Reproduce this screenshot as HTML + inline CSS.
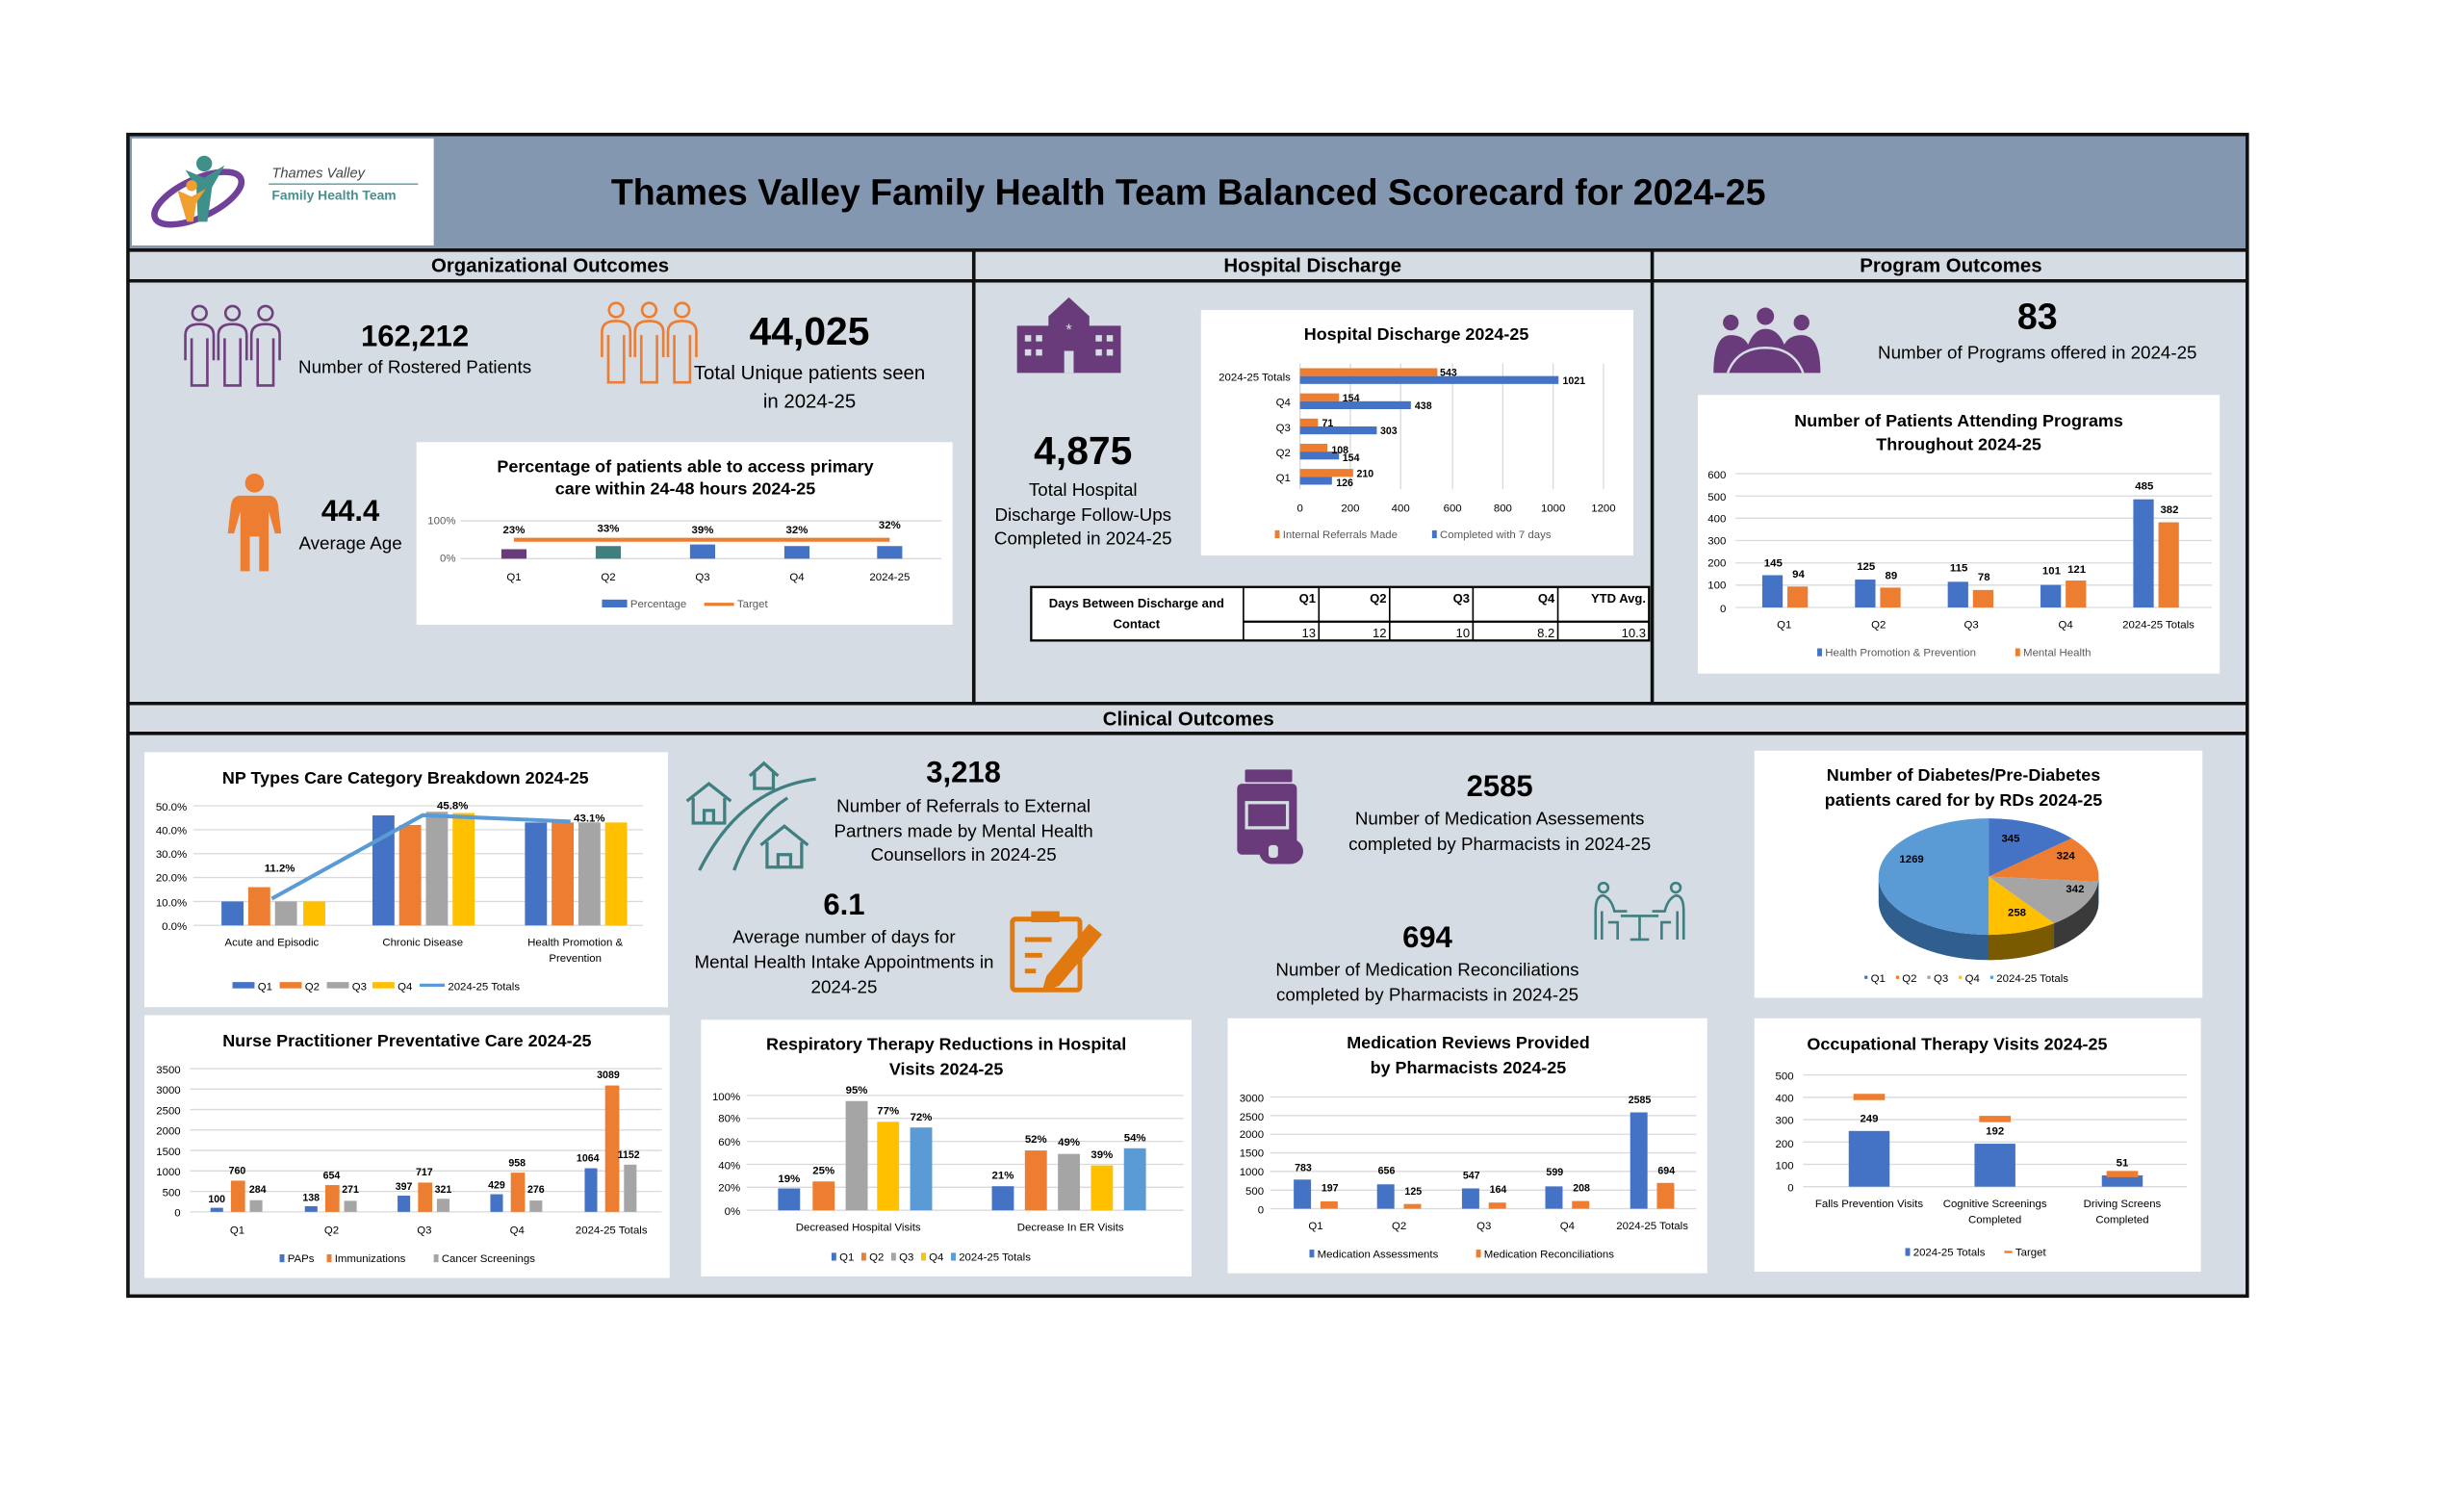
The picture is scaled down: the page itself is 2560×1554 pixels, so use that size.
<!DOCTYPE html>
<html><head><meta charset="utf-8"><style>
html,body{margin:0;padding:0;background:#fff;}
svg{display:block;}
text{font-family:"Liberation Sans Narrow","Liberation Sans",sans-serif;fill:#000;}
.t{font-size:11px;font-weight:bold;text-anchor:middle;}
.ax{font-size:7px;fill:#595959;}
.lb{font-size:7px;fill:#404040;text-anchor:middle;}
.g{stroke:#d9d9d9;stroke-width:0.8;}
.big{font-weight:bold;text-anchor:middle;}
.m{text-anchor:middle;font-size:11.5px;}
</style></head><body>
<svg width="2560" height="1554" viewBox="0 0 1550 940" preserveAspectRatio="none" xmlns="http://www.w3.org/2000/svg">
<rect width="1550" height="940" fill="#fff"/>
<g transform="translate(80,84) scale(0.989) translate(-80,-84)">
<!-- main panels -->
<rect x="81" y="85" width="1347" height="737" fill="#d6dce4"/>
<rect x="81" y="85" width="1347" height="72" fill="#8497b0"/>
<rect x="83" y="87" width="192" height="68" fill="#fff"/>
<text x="755" y="129" style="font-size:23px;font-weight:bold;text-anchor:middle">Thames Valley Family Health Team Balanced Scorecard for 2024-25</text>
<!-- logo -->
<ellipse cx="125" cy="125" rx="30" ry="12" fill="none" stroke="#70409a" stroke-width="4" transform="rotate(-25 125 125)"/>
<circle cx="129" cy="103" r="5" fill="#3f8f8a"/>
<path d="M117 107 L129 112 L142 104 L134 118 L131 140 L125 140 L124 118 Z" fill="#3f8f8a"/>
<circle cx="121" cy="117" r="3.5" fill="#f0a030"/>
<path d="M112 120 L121 124 L130 119 L124 128 L122 140 L118 140 Z" fill="#f0a030"/>
<text x="172" y="112" style="font-size:9px;font-style:italic;fill:#444">Thames Valley</text>
<line x1="170" y1="116" x2="265" y2="116" stroke="#5a9a9a" stroke-width="0.8"/>
<text x="172" y="126" style="font-size:8.5px;font-weight:bold;fill:#4a8f8f">Family Health Team</text>
<!-- grid lines -->
<g stroke="#111" stroke-width="2.2" fill="none">
<rect x="80.5" y="84.5" width="1348" height="738"/>
<line x1="80" y1="158" x2="1429" y2="158"/>
<line x1="80" y1="177.5" x2="1429" y2="177.5"/>
<line x1="80" y1="446" x2="1429" y2="446"/>
<line x1="80" y1="465" x2="1429" y2="465"/>
<line x1="618.5" y1="158" x2="618.5" y2="446"/>
<line x1="1050" y1="158" x2="1050" y2="446"/>
</g>
<text x="349" y="172" style="font-size:12.5px;font-weight:bold;text-anchor:middle">Organizational Outcomes</text>
<text x="834" y="172" style="font-size:12.5px;font-weight:bold;text-anchor:middle">Hospital Discharge</text>
<text x="1240" y="172" style="font-size:12.5px;font-weight:bold;text-anchor:middle">Program Outcomes</text>
<text x="755" y="460" style="font-size:12.5px;font-weight:bold;text-anchor:middle">Clinical Outcomes</text>

<!-- people icons -->
<g fill="none" stroke="#70407e" stroke-width="1.6">
<circle cx="126" cy="198" r="4.5"/><circle cx="147" cy="198" r="4.5"/><circle cx="168" cy="198" r="4.5"/>
<path d="M117 228 V212 Q117 205 126 205 Q135 205 135 212 V228 M121 214 V244 H131 V214"/>
<path d="M138 228 V212 Q138 205 147 205 Q156 205 156 212 V228 M142 214 V244 H152 V214"/>
<path d="M159 228 V212 Q159 205 168 205 Q177 205 177 212 V228 M163 214 V244 H173 V214"/>
</g>
<g fill="none" stroke="#ed7d31" stroke-width="1.6">
<circle cx="391" cy="196" r="4.5"/><circle cx="412" cy="196" r="4.5"/><circle cx="433" cy="196" r="4.5"/>
<path d="M382 226 V210 Q382 203 391 203 Q400 203 400 210 V226 M386 212 V242 H396 V212"/>
<path d="M403 226 V210 Q403 203 412 203 Q421 203 421 210 V226 M407 212 V242 H417 V212"/>
<path d="M424 226 V210 Q424 203 433 203 Q442 203 442 210 V226 M428 212 V242 H438 V212"/>
</g>
<circle cx="161" cy="306" r="6" fill="#ed7d31"/>
<path d="M152 314 H170 Q175 314 176 320 L178 338 H174 L170 324 V362 H164 V340 H158 V362 H152 V324 L148 338 H144 L146 320 Q147 314 152 314 Z" fill="#ed7d31"/>

<text x="263" y="219" class="big" style="font-size:19px">162,212</text>
<text x="263" y="236" class="m">Number of Rostered Patients</text>
<text x="514" y="218" class="big" style="font-size:25px">44,025</text>
<text x="514" y="240" class="m" style="font-size:12.5px">Total Unique patients seen</text>
<text x="514" y="258" class="m" style="font-size:12.5px">in 2024-25</text>
<text x="222" y="330" class="big" style="font-size:19px">44.4</text>
<text x="222" y="348" class="m">Average Age</text>

<!-- Access chart -->
<rect x="264" y="280" width="341" height="116" fill="#fff"/>
<text x="435" y="299" class="t">Percentage of patients able to access primary</text>
<text x="435" y="313" class="t">care within 24-48 hours 2024-25</text>
<line x1="292" y1="330" x2="598" y2="330" class="g"/><line x1="292" y1="354" x2="598" y2="354" class="g"/>
<text x="289" y="332" class="ax" text-anchor="end">100%</text><text x="289" y="356" class="ax" text-anchor="end">0%</text>
<rect x="318" y="348" width="16" height="6" fill="#6a3b7a"/>
<rect x="378" y="346" width="16" height="8" fill="#3f7f7f"/>
<rect x="438" y="345" width="16" height="9" fill="#4472c4"/>
<rect x="498" y="346" width="16" height="8" fill="#4472c4"/>
<rect x="557" y="346" width="16" height="8" fill="#4472c4"/>
<line x1="326" y1="342" x2="565" y2="342" stroke="#ed7d31" stroke-width="2.5"/>
<g class="lb" style="font-weight:bold"><text x="326" y="338">23%</text><text x="386" y="337">33%</text><text x="446" y="338">39%</text><text x="506" y="338">32%</text><text x="565" y="335">32%</text></g>
<g class="lb"><text x="326" y="368">Q1</text><text x="386" y="368">Q2</text><text x="446" y="368">Q3</text><text x="506" y="368">Q4</text><text x="565" y="368">2024-25</text></g>
<rect x="382" y="380" width="16" height="5" fill="#4472c4"/><text x="400" y="385" class="ax">Percentage</text>
<line x1="447" y1="383" x2="466" y2="383" stroke="#ed7d31" stroke-width="2"/><text x="468" y="385" class="ax">Target</text>

<!-- Hospital icon -->
<g fill="#6a3b7a">
<path d="M679 188 L692 200 V206 H712 V236 H646 V206 H666 V200 Z"/>
</g>
<g fill="#d6dce4"><rect x="651" y="212" width="4" height="4"/><rect x="658" y="212" width="4" height="4"/><rect x="651" y="221" width="4" height="4"/><rect x="658" y="221" width="4" height="4"/><rect x="696" y="212" width="4" height="4"/><rect x="703" y="212" width="4" height="4"/><rect x="696" y="221" width="4" height="4"/><rect x="703" y="221" width="4" height="4"/><rect x="676" y="222" width="6" height="14"/><text x="679" y="212" style="font-size:10px;fill:#d6dce4;text-anchor:middle">*</text></g>

<text x="688" y="294" class="big" style="font-size:25px">4,875</text>
<text x="688" y="314" class="m">Total Hospital</text>
<text x="688" y="330" class="m">Discharge Follow-Ups</text>
<text x="688" y="345" class="m">Completed in 2024-25</text>

<!-- Hospital discharge chart -->
<rect x="763" y="196" width="275" height="156" fill="#fff"/>
<text x="900" y="215" class="t">Hospital Discharge 2024-25</text>
<g class="g"><line x1="826" y1="230" x2="826" y2="310"/><line x1="858" y1="230" x2="858" y2="310"/><line x1="890" y1="230" x2="890" y2="310"/><line x1="923" y1="230" x2="923" y2="310"/><line x1="955" y1="230" x2="955" y2="310"/><line x1="987" y1="230" x2="987" y2="310"/><line x1="1019" y1="230" x2="1019" y2="310"/></g>
<g fill="#ed7d31"><rect x="826" y="233" width="87.4" height="5"/><rect x="826" y="249" width="24.8" height="5"/><rect x="826" y="265" width="11.4" height="5"/><rect x="826" y="281" width="17.4" height="5"/><rect x="826" y="297" width="33.8" height="5"/></g>
<g fill="#4472c4"><rect x="826" y="238" width="164.4" height="5"/><rect x="826" y="254" width="70.5" height="5"/><rect x="826" y="270" width="48.8" height="5"/><rect x="826" y="286" width="24.8" height="5"/><rect x="826" y="302" width="20.3" height="5"/></g>
<g class="ax" style="fill:#404040;font-weight:bold;font-size:6.5px"><text x="915" y="238">543</text><text x="993" y="243">1021</text><text x="853" y="254">154</text><text x="899" y="259">438</text><text x="840" y="270">71</text><text x="877" y="275">303</text><text x="846" y="287">108</text><text x="853" y="292">154</text><text x="862" y="302">210</text><text x="849" y="308">126</text></g>
<g class="ax" text-anchor="end"><text x="820" y="241">2024-25 Totals</text><text x="820" y="257">Q4</text><text x="820" y="273">Q3</text><text x="820" y="289">Q2</text><text x="820" y="305">Q1</text></g>
<g class="lb" style="fill:#595959"><text x="826" y="324">0</text><text x="858" y="324">200</text><text x="890" y="324">400</text><text x="923" y="324">600</text><text x="955" y="324">800</text><text x="987" y="324">1000</text><text x="1019" y="324">1200</text></g>
<rect x="810" y="336" width="3" height="5" fill="#ed7d31"/><text x="815" y="341" class="ax">Internal Referrals Made</text>
<rect x="910" y="336" width="3" height="5" fill="#4472c4"/><text x="915" y="341" class="ax">Completed with 7 days</text>

<!-- table -->
<rect x="655" y="372" width="393" height="34" fill="#fff" stroke="#000" stroke-width="1.4"/>
<g stroke="#000" stroke-width="1"><line x1="790" y1="372" x2="790" y2="406"/><line x1="838" y1="372" x2="838" y2="406"/><line x1="883" y1="372" x2="883" y2="406"/><line x1="936" y1="372" x2="936" y2="406"/><line x1="990" y1="372" x2="990" y2="406"/><line x1="790" y1="394" x2="1048" y2="394" stroke-width="1.4"/></g>
<text x="722" y="385" style="font-size:8px;font-weight:bold;text-anchor:middle">Days Between Discharge and</text>
<text x="722" y="398" style="font-size:8px;font-weight:bold;text-anchor:middle">Contact</text>
<g style="font-size:8px;font-weight:bold;text-anchor:end"><text x="836" y="382">Q1</text><text x="881" y="382">Q2</text><text x="934" y="382">Q3</text><text x="988" y="382">Q4</text><text x="1046" y="382">YTD Avg.</text></g>
<g style="font-size:8px;text-anchor:end"><text x="836" y="404">13</text><text x="881" y="404">12</text><text x="934" y="404">10</text><text x="988" y="404">8.2</text><text x="1046" y="404">10.3</text></g>

<!-- Program icon -->
<g fill="#6a3b7a"><circle cx="1100" cy="204" r="5"/><circle cx="1122" cy="200" r="5.5"/><circle cx="1145" cy="204" r="5"/>
<path d="M1089 236 Q1089 212 1100 212 Q1108 212 1111 218 Q1115 208 1122 208 Q1130 208 1134 218 Q1137 212 1145 212 Q1157 212 1157 236 Z"/></g>
<path d="M1098 236 Q1104 220 1122 220 Q1140 220 1146 236" fill="none" stroke="#d6dce4" stroke-width="1.5"/>
<text x="1295" y="208" class="big" style="font-size:23px">83</text>
<text x="1295" y="227" class="m">Number of Programs offered in 2024-25</text>

<!-- Programs chart -->
<rect x="1079" y="250" width="332" height="177" fill="#fff"/>
<text x="1245" y="270" class="t">Number of Patients Attending Programs</text>
<text x="1245" y="285" class="t">Throughout 2024-25</text>
<g class="g"><line x1="1103" y1="385" x2="1406" y2="385"/><line x1="1103" y1="370.8" x2="1406" y2="370.8"/><line x1="1103" y1="356.7" x2="1406" y2="356.7"/><line x1="1103" y1="342.5" x2="1406" y2="342.5"/><line x1="1103" y1="328.3" x2="1406" y2="328.3"/><line x1="1103" y1="314.2" x2="1406" y2="314.2"/><line x1="1103" y1="300" x2="1406" y2="300"/></g>
<g class="ax" text-anchor="end"><text x="1097" y="388">0</text><text x="1097" y="373">100</text><text x="1097" y="359">200</text><text x="1097" y="345">300</text><text x="1097" y="331">400</text><text x="1097" y="317">500</text><text x="1097" y="303">600</text></g>
<g fill="#4472c4"><rect x="1120" y="364.5" width="13" height="20.5"/><rect x="1179" y="367.3" width="13" height="17.7"/><rect x="1238" y="368.7" width="13" height="16.3"/><rect x="1297" y="370.7" width="13" height="14.3"/><rect x="1356" y="316.3" width="13" height="68.7"/></g>
<g fill="#ed7d31"><rect x="1136" y="371.7" width="13" height="13.3"/><rect x="1195" y="372.4" width="13" height="12.6"/><rect x="1254" y="373.9" width="13" height="11.1"/><rect x="1313" y="367.9" width="13" height="17.1"/><rect x="1372" y="330.9" width="13" height="54.1"/></g>
<g class="lb" style="font-weight:bold"><text x="1127" y="359">145</text><text x="1143" y="366">94</text><text x="1186" y="361">125</text><text x="1202" y="367">89</text><text x="1245" y="362">115</text><text x="1261" y="368">78</text><text x="1304" y="364">101</text><text x="1320" y="363">121</text><text x="1363" y="310">485</text><text x="1379" y="325">382</text></g>
<g class="lb"><text x="1134" y="398">Q1</text><text x="1194" y="398">Q2</text><text x="1253" y="398">Q3</text><text x="1313" y="398">Q4</text><text x="1372" y="398">2024-25 Totals</text></g>
<rect x="1155" y="411" width="3" height="5" fill="#4472c4"/><text x="1160" y="416" class="ax">Health Promotion &amp; Prevention</text>
<rect x="1281" y="411" width="3" height="5" fill="#ed7d31"/><text x="1286" y="416" class="ax">Mental Health</text>

<!-- NP types chart -->
<rect x="91" y="477" width="333" height="162" fill="#fff"/>
<text x="257" y="497" class="t">NP Types Care Category Breakdown 2024-25</text>
<g class="g"><line x1="122" y1="587" x2="408" y2="587"/><line x1="122" y1="571.8" x2="408" y2="571.8"/><line x1="122" y1="556.6" x2="408" y2="556.6"/><line x1="122" y1="541.4" x2="408" y2="541.4"/><line x1="122" y1="526.2" x2="408" y2="526.2"/><line x1="122" y1="511" x2="408" y2="511"/></g>
<g class="ax" text-anchor="end"><text x="118" y="590">0.0%</text><text x="118" y="575">10.0%</text><text x="118" y="559">20.0%</text><text x="118" y="544">30.0%</text><text x="118" y="529">40.0%</text><text x="118" y="514">50.0%</text></g>
<rect x="140" y="571.8" width="14" height="15.2" fill="#4472c4"/><rect x="157" y="562.7" width="14" height="24.3" fill="#ed7d31"/><rect x="174" y="571.8" width="14" height="15.2" fill="#a5a5a5"/><rect x="192" y="571.8" width="14" height="15.2" fill="#ffc000"/>
<rect x="236" y="517.1" width="14" height="69.9" fill="#4472c4"/><rect x="253" y="523.2" width="14" height="63.8" fill="#ed7d31"/><rect x="270" y="514.8" width="14" height="72.2" fill="#a5a5a5"/><rect x="287" y="515.6" width="14" height="71.4" fill="#ffc000"/>
<rect x="333" y="521.6" width="14" height="65.4" fill="#4472c4"/><rect x="350" y="521.6" width="14" height="65.4" fill="#ed7d31"/><rect x="367" y="521.6" width="14" height="65.4" fill="#a5a5a5"/><rect x="384" y="521.6" width="14" height="65.4" fill="#ffc000"/>
<polyline points="172,570 268,517 362,521" fill="none" stroke="#5b9bd5" stroke-width="2.5"/>
<g class="lb" style="font-weight:bold"><text x="177" y="553">11.2%</text><text x="287" y="513">45.8%</text><text x="374" y="521">43.1%</text></g>
<g class="lb"><text x="172" y="600">Acute and Episodic</text><text x="268" y="600">Chronic Disease</text><text x="365" y="600">Health Promotion &amp;</text><text x="365" y="610">Prevention</text></g>
<g class="ax"><rect x="147" y="623" width="14" height="4" fill="#4472c4"/><text x="163" y="628">Q1</text><rect x="177" y="623" width="14" height="4" fill="#ed7d31"/><text x="193" y="628">Q2</text><rect x="207" y="623" width="14" height="4" fill="#a5a5a5"/><text x="223" y="628">Q3</text><rect x="236" y="623" width="14" height="4" fill="#ffc000"/><text x="252" y="628">Q4</text><line x1="266" y1="625" x2="282" y2="625" stroke="#5b9bd5" stroke-width="2"/><text x="284" y="628">2024-25 Totals</text></g>

<!-- houses & road icon -->
<g fill="none" stroke="#3f7f7f" stroke-width="2">
<path d="M444 552 Q470 500 518 494"/><path d="M466 552 Q478 520 500 506"/>
<path d="M436 508 L450 497 L464 508 M440 506 V522 H460 V506 M447 522 V514 H453 V522"/>
<path d="M476 492 L485 484 L494 492 M479 490 V500 H491 V490"/>
<path d="M483 536 L498 524 L513 536 M487 534 V550 H509 V534 M494 550 V542 H502 V550"/>
</g>
<text x="612" y="496" class="big" style="font-size:19px">3,218</text>
<text x="612" y="515" class="m">Number of Referrals to External</text>
<text x="612" y="531" class="m">Partners made by Mental Health</text>
<text x="612" y="546" class="m">Counsellors in 2024-25</text>
<text x="536" y="580" class="big" style="font-size:19px">6.1</text>
<text x="536" y="598" class="m">Average number of days for</text>
<text x="536" y="614" class="m">Mental Health Intake Appointments in</text>
<text x="536" y="630" class="m">2024-25</text>
<!-- clipboard -->
<g fill="none" stroke="#e07a10" stroke-width="3">
<rect x="643" y="583" width="43" height="45" rx="2"/>
<path d="M651 596 H668 M651 606 H662 M651 616 H658"/>
<path d="M666 620 L692 588 L698 593 L672 624 L664 627 Z" fill="#e07a10"/>
</g>
<rect x="655" y="578" width="18" height="7" fill="#e07a10"/>

<!-- pill bottle -->
<g fill="#6a3b7a"><rect x="791" y="488" width="30" height="8" rx="1"/><rect x="786" y="497" width="38" height="45" rx="3"/><rect x="800" y="532" width="28" height="16" rx="8"/></g>
<rect x="791" y="508" width="28" height="18" fill="#d6dce4"/><rect x="793" y="510" width="24" height="14" fill="#6a3b7a"/>
<rect x="806" y="536" width="6" height="8" rx="2" fill="#d6dce4"/>
<text x="953" y="505" class="big" style="font-size:19px">2585</text>
<text x="953" y="523" class="m">Number of Medication Asessements</text>
<text x="953" y="539" class="m">completed by Pharmacists in 2024-25</text>
<!-- table people -->
<g fill="none" stroke="#3f7f7f" stroke-width="1.6">
<circle cx="1019" cy="563" r="3"/><circle cx="1065" cy="563" r="3"/>
<path d="M1014 596 V578 Q1014 568 1019 568 Q1024 570 1026 578 H1034 M1018 578 V596 M1022 585 H1028 V596"/>
<path d="M1070 596 V578 Q1070 568 1065 568 Q1060 570 1058 578 H1050 M1066 578 V596 M1062 585 H1056 V596"/>
<path d="M1030 581 H1054 M1042 581 V596 M1036 596 H1048"/>
</g>
<text x="907" y="601" class="big" style="font-size:19px">694</text>
<text x="907" y="619" class="m">Number of Medication Reconciliations</text>
<text x="907" y="635" class="m">completed by Pharmacists in 2024-25</text>

<!-- Diabetes pie -->
<rect x="1115" y="476" width="285" height="157" fill="#fff"/>
<text x="1248" y="495" class="t">Number of Diabetes/Pre-Diabetes</text>
<text x="1248" y="511" class="t">patients cared for by RDs 2024-25</text>
<path d="M1334 556 A70 37 0 0 1 1194 556 L1194 572 A70 37 0 0 0 1334 572 Z" fill="#2f5e8f"/>
<path d="M1305.7 585.7 A70 37 0 0 1 1264 593 L1264 609 A70 37 0 0 0 1305.7 601.7 Z" fill="#7a5a00"/>
<path d="M1333.7 559.2 A70 37 0 0 1 1305.7 585.7 L1305.7 601.7 A70 37 0 0 0 1333.7 575.2 Z" fill="#3a3a3a"/>
<path d="M1264 556 L1264 519 A70 37 0 0 1 1316.8 531.7 Z" fill="#4472c4"/>
<path d="M1264 556 L1316.8 531.7 A70 37 0 0 1 1333.7 559.2 Z" fill="#ed7d31"/>
<path d="M1264 556 L1333.7 559.2 A70 37 0 0 1 1305.7 585.7 Z" fill="#a5a5a5"/>
<path d="M1264 556 L1305.7 585.7 A70 37 0 0 1 1264 593 Z" fill="#ffc000"/>
<path d="M1264 556 L1264 593 A70 37 0 0 1 1264 519 Z" fill="#5b9bd5"/>
<g class="lb" style="font-size:7px;fill:#333;font-weight:bold"><text x="1278" y="534">345</text><text x="1313" y="545">324</text><text x="1319" y="566">342</text><text x="1282" y="581">258</text><text x="1215" y="547">1269</text></g>
<g class="ax"><rect x="1185" y="619" width="2" height="2" fill="#4472c4"/><text x="1189" y="623">Q1</text><rect x="1205" y="619" width="2" height="2" fill="#ed7d31"/><text x="1209" y="623">Q2</text><rect x="1225" y="619" width="2" height="2" fill="#a5a5a5"/><text x="1229" y="623">Q3</text><rect x="1245" y="619" width="2" height="2" fill="#ffc000"/><text x="1249" y="623">Q4</text><rect x="1265" y="619" width="2" height="2" fill="#5b9bd5"/><text x="1269" y="623">2024-25 Totals</text></g>

<!-- Nurse practitioner chart -->
<rect x="91" y="644" width="334" height="167" fill="#fff"/>
<text x="258" y="664" class="t">Nurse Practitioner Preventative Care 2024-25</text>
<g class="g"><line x1="120" y1="769" x2="420" y2="769"/><line x1="120" y1="756" x2="420" y2="756"/><line x1="120" y1="743" x2="420" y2="743"/><line x1="120" y1="730" x2="420" y2="730"/><line x1="120" y1="717" x2="420" y2="717"/><line x1="120" y1="704" x2="420" y2="704"/><line x1="120" y1="691" x2="420" y2="691"/><line x1="120" y1="678" x2="420" y2="678"/></g>
<g class="ax" text-anchor="end"><text x="114" y="772">0</text><text x="114" y="759">500</text><text x="114" y="746">1000</text><text x="114" y="733">1500</text><text x="114" y="720">2000</text><text x="114" y="707">2500</text><text x="114" y="694">3000</text><text x="114" y="681">3500</text></g>
<g fill="#4472c4"><rect x="133" y="766.4" width="8" height="2.6"/><rect x="193" y="765.4" width="8" height="3.6"/><rect x="252" y="758.7" width="8" height="10.3"/><rect x="311" y="757.8" width="8" height="11.2"/><rect x="371" y="741.3" width="8" height="27.7"/></g>
<g fill="#ed7d31"><rect x="146" y="749.2" width="9" height="19.8"/><rect x="206" y="752" width="9" height="17"/><rect x="265" y="750.4" width="9" height="18.6"/><rect x="324" y="744.1" width="9" height="24.9"/><rect x="384" y="688.7" width="9" height="80.3"/></g>
<g fill="#a5a5a5"><rect x="158" y="761.6" width="8" height="7.4"/><rect x="218" y="762" width="8" height="7"/><rect x="277" y="760.7" width="8" height="8.3"/><rect x="336" y="761.8" width="8" height="7.2"/><rect x="396" y="739" width="8" height="30"/></g>
<g class="lb" style="font-weight:bold;font-size:6.5px"><text x="137" y="763">100</text><text x="150" y="745">760</text><text x="163" y="757">284</text><text x="197" y="762">138</text><text x="210" y="748">654</text><text x="222" y="757">271</text><text x="256" y="755">397</text><text x="269" y="746">717</text><text x="281" y="757">321</text><text x="315" y="754">429</text><text x="328" y="740">958</text><text x="340" y="757">276</text><text x="373" y="737">1064</text><text x="386" y="684">3089</text><text x="399" y="735">1152</text></g>
<g class="lb"><text x="150" y="783">Q1</text><text x="210" y="783">Q2</text><text x="269" y="783">Q3</text><text x="328" y="783">Q4</text><text x="388" y="783">2024-25 Totals</text></g>
<g class="ax"><rect x="177" y="796" width="3" height="5" fill="#4472c4"/><text x="182" y="801">PAPs</text><rect x="207" y="796" width="3" height="5" fill="#ed7d31"/><text x="212" y="801">Immunizations</text><rect x="275" y="796" width="3" height="5" fill="#a5a5a5"/><text x="280" y="801">Cancer Screenings</text></g>

<!-- Respiratory chart -->
<rect x="445" y="647" width="312" height="163" fill="#fff"/>
<text x="601" y="666" class="t">Respiratory Therapy Reductions in Hospital</text>
<text x="601" y="682" class="t">Visits 2024-25</text>
<g class="g"><line x1="474" y1="768" x2="752" y2="768"/><line x1="474" y1="753.4" x2="752" y2="753.4"/><line x1="474" y1="738.8" x2="752" y2="738.8"/><line x1="474" y1="724.2" x2="752" y2="724.2"/><line x1="474" y1="709.6" x2="752" y2="709.6"/><line x1="474" y1="695" x2="752" y2="695"/></g>
<g class="ax" text-anchor="end"><text x="470" y="771">0%</text><text x="470" y="756">20%</text><text x="470" y="742">40%</text><text x="470" y="727">60%</text><text x="470" y="712">80%</text><text x="470" y="698">100%</text></g>
<rect x="494" y="754.1" width="14" height="13.9" fill="#4472c4"/><rect x="516" y="749.7" width="14" height="18.3" fill="#ed7d31"/><rect x="537" y="698.6" width="14" height="69.4" fill="#a5a5a5"/><rect x="557" y="711.8" width="14" height="56.2" fill="#ffc000"/><rect x="578" y="715.4" width="14" height="52.6" fill="#5b9bd5"/>
<rect x="630" y="752.7" width="14" height="15.3" fill="#4472c4"/><rect x="651" y="730" width="14" height="38" fill="#ed7d31"/><rect x="672" y="732.2" width="14" height="35.8" fill="#a5a5a5"/><rect x="693" y="739.5" width="14" height="28.5" fill="#ffc000"/><rect x="714" y="728.6" width="14" height="39.4" fill="#5b9bd5"/>
<g class="lb" style="font-weight:bold"><text x="501" y="750">19%</text><text x="523" y="745">25%</text><text x="544" y="694">95%</text><text x="564" y="707">77%</text><text x="585" y="711">72%</text><text x="637" y="748">21%</text><text x="658" y="725">52%</text><text x="679" y="727">49%</text><text x="700" y="735">39%</text><text x="721" y="724">54%</text></g>
<g class="lb"><text x="545" y="781">Decreased Hospital Visits</text><text x="680" y="781">Decrease In ER Visits</text></g>
<g class="ax"><rect x="528" y="795" width="3" height="5" fill="#4472c4"/><text x="533" y="800">Q1</text><rect x="547" y="795" width="3" height="5" fill="#ed7d31"/><text x="552" y="800">Q2</text><rect x="566" y="795" width="3" height="5" fill="#a5a5a5"/><text x="571" y="800">Q3</text><rect x="585" y="795" width="3" height="5" fill="#ffc000"/><text x="590" y="800">Q4</text><rect x="604" y="795" width="3" height="5" fill="#5b9bd5"/><text x="609" y="800">2024-25 Totals</text></g>

<!-- Medication reviews chart -->
<rect x="780" y="646" width="305" height="162" fill="#fff"/>
<text x="933" y="665" class="t">Medication Reviews Provided</text>
<text x="933" y="681" class="t">by Pharmacists 2024-25</text>
<g class="g"><line x1="807" y1="767" x2="1078" y2="767"/><line x1="807" y1="755.2" x2="1078" y2="755.2"/><line x1="807" y1="743.3" x2="1078" y2="743.3"/><line x1="807" y1="731.5" x2="1078" y2="731.5"/><line x1="807" y1="719.7" x2="1078" y2="719.7"/><line x1="807" y1="707.8" x2="1078" y2="707.8"/><line x1="807" y1="696" x2="1078" y2="696"/></g>
<g class="ax" text-anchor="end"><text x="803" y="770">0</text><text x="803" y="758">500</text><text x="803" y="746">1000</text><text x="803" y="734">1500</text><text x="803" y="722">2000</text><text x="803" y="711">2500</text><text x="803" y="699">3000</text></g>
<g fill="#4472c4"><rect x="822" y="748.5" width="11" height="18.5"/><rect x="875" y="751.5" width="11" height="15.5"/><rect x="929" y="754.1" width="11" height="12.9"/><rect x="982" y="752.8" width="11" height="14.2"/><rect x="1036" y="705.8" width="11" height="61.2"/></g>
<g fill="#ed7d31"><rect x="839" y="762.3" width="11" height="4.7"/><rect x="892" y="764" width="11" height="3"/><rect x="946" y="763.1" width="11" height="3.9"/><rect x="999" y="762.1" width="11" height="4.9"/><rect x="1053" y="750.6" width="11" height="16.4"/></g>
<g class="lb" style="font-weight:bold;font-size:6.5px"><text x="828" y="743">783</text><text x="845" y="756">197</text><text x="881" y="745">656</text><text x="898" y="758">125</text><text x="935" y="748">547</text><text x="952" y="757">164</text><text x="988" y="746">599</text><text x="1005" y="756">208</text><text x="1042" y="700">2585</text><text x="1059" y="745">694</text></g>
<g class="lb"><text x="836" y="780">Q1</text><text x="889" y="780">Q2</text><text x="943" y="780">Q3</text><text x="996" y="780">Q4</text><text x="1050" y="780">2024-25 Totals</text></g>
<g class="ax"><rect x="832" y="793" width="3" height="5" fill="#4472c4"/><text x="837" y="798">Medication Assessments</text><rect x="938" y="793" width="3" height="5" fill="#ed7d31"/><text x="943" y="798">Medication Reconciliations</text></g>

<!-- OT chart -->
<rect x="1115" y="646" width="284" height="161" fill="#fff"/>
<text x="1244" y="666" class="t">Occupational Therapy Visits 2024-25</text>
<g class="g"><line x1="1146" y1="753" x2="1390" y2="753"/><line x1="1146" y1="738.8" x2="1390" y2="738.8"/><line x1="1146" y1="724.6" x2="1390" y2="724.6"/><line x1="1146" y1="710.4" x2="1390" y2="710.4"/><line x1="1146" y1="696.2" x2="1390" y2="696.2"/><line x1="1146" y1="682" x2="1390" y2="682"/></g>
<g class="ax" text-anchor="end"><text x="1140" y="756">0</text><text x="1140" y="742">100</text><text x="1140" y="728">200</text><text x="1140" y="713">300</text><text x="1140" y="699">400</text><text x="1140" y="685">500</text></g>
<g fill="#4472c4"><rect x="1175" y="717.6" width="26" height="35.4"/><rect x="1255" y="725.7" width="26" height="27.3"/><rect x="1336" y="745.8" width="26" height="7.2"/></g>
<g fill="#ed7d31"><rect x="1178" y="694" width="20" height="4"/><rect x="1258" y="708" width="20" height="4"/><rect x="1339" y="743" width="20" height="4"/></g>
<g class="lb" style="font-weight:bold"><text x="1188" y="712">249</text><text x="1268" y="720">192</text><text x="1349" y="740">51</text></g>
<g class="lb"><text x="1188" y="766">Falls Prevention Visits</text><text x="1268" y="766">Cognitive Screenings</text><text x="1268" y="776">Completed</text><text x="1349" y="766">Driving Screens</text><text x="1349" y="776">Completed</text></g>
<g class="ax"><rect x="1211" y="792" width="3" height="5" fill="#4472c4"/><text x="1216" y="797">2024-25 Totals</text><line x1="1274" y1="794.5" x2="1279" y2="794.5" stroke="#ed7d31" stroke-width="1.5"/><text x="1281" y="797">Target</text></g>
</g>
</svg>
</body></html>
